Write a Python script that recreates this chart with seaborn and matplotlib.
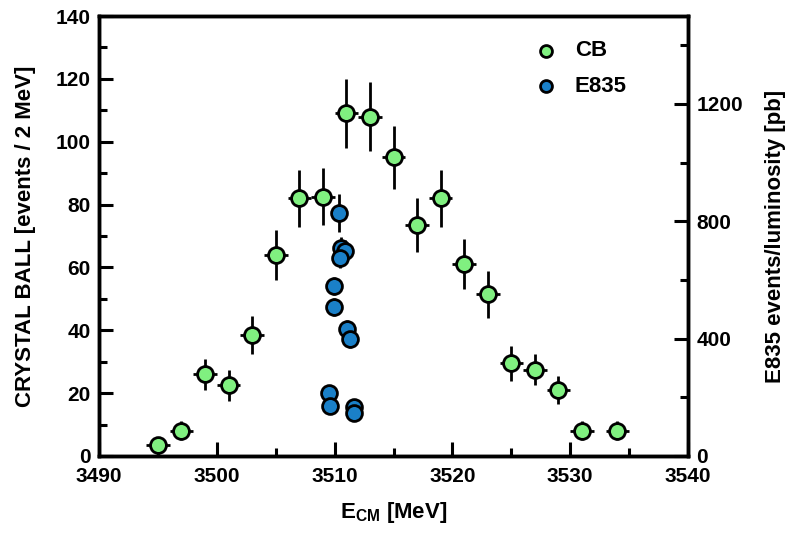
import numpy as np
import pandas as pd
import matplotlib.pyplot as plt
import seaborn as sns

# Crystal Ball data (events / 2 MeV)
cb_e = [3495, 3497, 3499, 3501, 3503, 3505, 3507, 3509, 3511, 3513,
        3515, 3517, 3519, 3521, 3523, 3525, 3527, 3529, 3531, 3534]
cb_n = [3.5, 8, 26, 22.5, 38.5, 64, 82, 82.5, 109, 108,
        95, 73.5, 82, 61, 51.5, 29.5, 27.5, 21, 8, 8]
cb_err = [2, 3, 5, 5, 6, 8, 9, 9, 11, 11,
          10, 8.5, 9, 8, 7.5, 5.5, 5, 4.5, 3, 3]
cb_xerr = [1] * len(cb_e)

# E835 data (events / luminosity, pb)
e835_e = [3510.37, 3510.54, 3510.88, 3510.46, 3509.95, 3509.95,
          3511.05, 3511.30, 3509.52, 3509.60, 3511.65, 3511.65]
e835_pb = [828, 708, 700, 675, 579, 508, 433, 399, 214, 172, 167, 147]
e835_err = [65, 40, 35, 35, 30, 30, 30, 30, 15, 15, 15, 15]

cb = pd.DataFrame({"E": cb_e, "N": cb_n, "err": cb_err, "xerr": cb_xerr})
e835 = pd.DataFrame({"E": e835_e, "pb": e835_pb, "err": e835_err})

sns.set_style("ticks")
plt.rcParams['font.family'] = ['Liberation Sans', 'DejaVu Sans']
plt.rcParams['font.weight'] = 'bold'
plt.rcParams['text.color'] = 'black'
plt.rcParams['axes.labelcolor'] = 'black'
plt.rcParams['xtick.color'] = 'black'
plt.rcParams['ytick.color'] = 'black'

fig = plt.figure(figsize=(8.01, 5.48), dpi=100)
ax = fig.add_axes([0.1236, 0.1679, 0.7354, 0.8029])
ax2 = ax.twinx()

green = "#80f080"
blue = "#1a80c8"

ax.errorbar(cb["E"], cb["N"], yerr=cb["err"], xerr=cb["xerr"], fmt="none",
            ecolor="black", elinewidth=2, capsize=0, zorder=2)
sns.scatterplot(data=cb, x="E", y="N", ax=ax, color=green, s=130,
                edgecolor="black", linewidth=2, zorder=3, label="CB", legend=False)

ax2.errorbar(e835["E"], e835["pb"], yerr=e835["err"], fmt="none",
             ecolor="black", elinewidth=2, capsize=0, zorder=2)
sns.scatterplot(data=e835, x="E", y="pb", ax=ax2, color=blue, s=130,
                edgecolor="black", linewidth=2, zorder=3, label="E835", legend=False)

ax.set_xlim(3490, 3540)
ax.set_ylim(0, 140)
ax2.set_ylim(0, 1500)

ax.set_xticks(np.arange(3490, 3541, 10))
ax.set_xticks(np.arange(3495, 3540, 10), minor=True)
ax.set_yticks(np.arange(0, 141, 20))
ax.set_yticks(np.arange(10, 140, 20), minor=True)
ax2.set_yticks([0, 400, 800, 1200])
ax2.set_yticks([200, 600, 1000, 1400], minor=True)

for a in (ax, ax2):
    a.tick_params(which="major", direction="in", length=10, width=2.2,
                  labelsize=15, pad=6)
    a.tick_params(which="minor", direction="in", length=6, width=2.2)
    for s in a.spines.values():
        s.set_linewidth(2.5)
        s.set_color("black")
    for lab in a.get_xticklabels() + a.get_yticklabels():
        lab.set_fontweight("bold")
ax.tick_params(axis="x", pad=8)
ax.tick_params(axis="y", left=True, right=False)
ax2.tick_params(axis="y", left=False, right=True)

ax.set_xlabel("E$_{\\mathregular{CM}}$ [MeV]", fontsize=16, fontweight="bold", labelpad=10)
ax.set_ylabel("CRYSTAL BALL [events / 2 MeV]", fontsize=16, fontweight="bold", labelpad=14)
ax2.set_ylabel("E835 events/luminosity [pb]", fontsize=16, fontweight="bold", labelpad=16)

h1, l1 = ax.get_legend_handles_labels()
h2, l2 = ax2.get_legend_handles_labels()
leg = ax2.legend(h1 + h2, l1 + l2, loc="upper right", bbox_to_anchor=(0.93, 0.99),
                 frameon=False, markerscale=0.75, handletextpad=0.3,
                 labelspacing=0.65, prop={"weight": "bold", "size": 16})

fig.savefig("out.png", dpi=100)
